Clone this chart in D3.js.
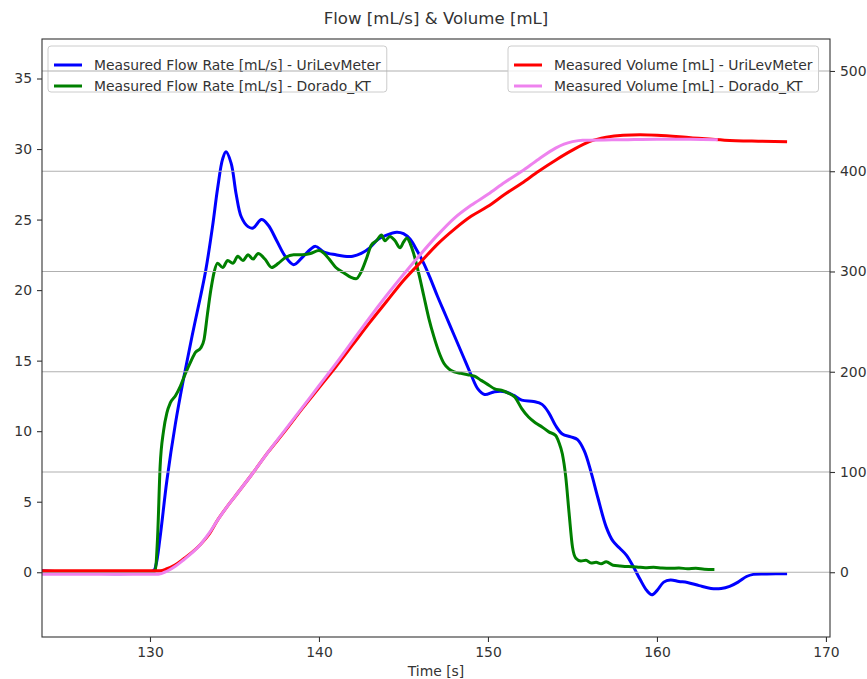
<!DOCTYPE html>
<html>
<head>
<meta charset="utf-8">
<script src="https://cdn.jsdelivr.net/npm/d3@7"></script>
<style>
  html, body { margin: 0; padding: 0; background: #fff; }
  svg text { font-family: "DejaVu Sans", sans-serif; fill: #333; }
</style>
</head>
<body>
<div id="chart"></div>
<script>
// flow rate, UriLevMeter [mL/s]
var uriFlowT = [123.6,130.2,130.35,130.6,131.0,131.5,132.0,132.5,133.0,133.3,133.7,134.0,134.3,134.5,134.8,135.1,135.4,135.8,136.1,136.6,137.0,137.5,138.0,138.5,139.0,139.5,139.8,140.3,141.0,141.5,142.0,142.5,143.0,143.5,144.0,144.6,145.0,145.4,145.8,146.2,146.6,147.0,147.5,148.0,148.5,149.0,149.4,149.8,150.4,151.0,151.5,152.0,152.7,153.2,153.6,154.0,154.4,154.9,155.3,155.7,156.1,156.5,157.0,157.4,157.8,158.2,158.6,159.0,159.4,159.7,160.0,160.4,160.8,161.3,161.8,162.5,163.2,163.8,164.3,164.8,165.3,165.7,166.5,167.7];
var uriFlow = [0.1,0.1,0.5,2.5,6.5,10.5,13.8,16.8,19.6,21.4,24.5,27.2,29.3,29.8,29.0,26.8,25.2,24.5,24.4,25.0,24.6,23.5,22.4,21.8,22.3,22.9,23.1,22.7,22.5,22.4,22.4,22.6,23.0,23.6,23.9,24.1,24.0,23.6,22.8,21.9,20.8,19.6,18.2,16.8,15.4,14.0,13.0,12.6,12.8,12.8,12.55,12.2,12.1,11.9,11.3,10.4,9.8,9.6,9.4,8.6,7.1,5.3,3.2,2.2,1.7,1.2,0.4,-0.5,-1.3,-1.6,-1.3,-0.7,-0.55,-0.65,-0.72,-0.95,-1.15,-1.15,-1.0,-0.7,-0.3,-0.15,-0.12,-0.1];

// flow rate, Dorado_KT [mL/s]
var kidFlowT = [123.6,130.3,130.45,130.6,130.8,131.0,131.2,131.5,131.8,132.1,132.4,132.7,133.0,133.2,133.4,133.6,133.8,134.0,134.3,134.6,134.9,135.2,135.5,135.8,136.1,136.4,136.8,137.2,137.6,138.0,138.5,139.0,139.5,140.0,140.3,140.6,141.0,141.5,141.9,142.2,142.5,142.8,143.1,143.4,143.7,143.9,144.2,144.5,144.8,145.0,145.2,145.4,145.6,145.9,146.2,146.5,146.8,147.1,147.4,147.7,148.0,148.4,148.8,149.2,149.6,150.0,150.4,150.8,151.2,151.6,152.0,152.4,152.8,153.2,153.6,154.0,154.2,154.4,154.6,154.8,155.0,155.2,155.5,155.8,156.1,156.4,156.7,157.0,157.4,157.8,158.3,158.8,159.3,159.8,160.3,160.8,161.3,161.8,162.3,162.8,163.4];
var kidFlow = [0.05,0.05,2.5,7.5,10.0,11.3,12.0,12.5,13.2,14.1,14.9,15.6,15.9,16.5,18.3,20.0,21.3,21.9,21.6,22.1,21.9,22.4,22.1,22.5,22.2,22.6,22.2,21.6,21.9,22.3,22.5,22.5,22.6,22.8,22.6,22.2,21.6,21.2,20.9,20.8,21.3,22.2,23.2,23.5,23.9,23.5,23.8,23.5,23.0,23.4,23.7,23.3,22.6,21.2,19.6,18.0,16.7,15.6,14.8,14.4,14.2,14.1,14.0,13.9,13.6,13.3,13.0,12.9,12.7,12.4,11.6,11.0,10.6,10.3,9.95,9.7,9.2,8.4,6.8,4.2,1.8,1.0,0.8,0.85,0.65,0.7,0.6,0.75,0.5,0.45,0.4,0.38,0.32,0.35,0.3,0.28,0.3,0.25,0.28,0.22,0.2];

// volume, UriLevMeter [mL]
var uriVolT = [123.6,130.6,131.0,131.5,132.0,132.5,133.0,133.5,134.0,134.5,135.0,136.0,137.0,138.0,139.0,140.0,141.0,142.0,143.0,144.0,145.0,146.0,147.0,148.0,149.0,150.0,151.0,152.0,153.0,154.0,155.0,156.0,157.0,158.0,159.0,160.0,162.0,164.0,166.0,167.7];
var uriVol = [1.5,1.5,3.5,7.5,13.5,20,28,38,52,64,75,97,120,141,163,184,205,227,249,270,291,309,327,342,355,365,377,388,400,411,421,429.5,434,436,436.5,436,433.5,431,430,429.5];

// volume, Dorado_KT [mL]
var kidVolT = [123.6,130.5,131.0,131.5,132.0,132.5,133.0,133.5,134.0,134.5,135.0,136.0,137.0,138.0,139.0,140.0,141.0,142.0,143.0,144.0,145.0,146.0,147.0,148.0,149.0,150.0,151.0,152.0,153.0,154.0,154.5,155.0,155.6,156.0,158.0,160.0,162.0,163.6];
var kidVol = [-2,-2,1,6,12.5,19.5,28,39,52,64,75,97,120,142,164,186,208,231,254,276,297,317,336,353,366,377,389,400,412,423,427,429.5,431,431,431.5,432,432,431.5];

var xTicks = [130, 140, 150, 160, 170];
var flowTicks = [0, 5, 10, 15, 20, 25, 30, 35];
var volTicks = [0, 100, 200, 300, 400, 500];

var W = 867, H = 679;
var margin = {top: 39, right: 37, bottom: 42, left: 42};
var iw = W - margin.left - margin.right,
    ih = H - margin.top - margin.bottom;

var svg = d3.select("#chart").append("svg")
    .attr("width", W).attr("height", H);

var g = svg.append("g")
    .attr("transform", "translate(" + margin.left + "," + margin.top + ")");

var x = d3.scaleLinear().domain([123.61, 170.24]).range([0, iw]);
var yFlow = d3.scaleLinear().domain([-4.59, 37.8]).range([ih, 0]);
var yVol = d3.scaleLinear().domain([-64.6, 531.9]).range([ih, 0]);

svg.append("defs").append("clipPath").attr("id", "clip")
    .append("rect").attr("width", iw).attr("height", ih);

function pairs(ts, vs) { return ts.map(function(t, i) { return [t, vs[i]]; }); }

var flowLine = function(curve) {
    return d3.line().x(function(d) { return x(d[0]); })
        .y(function(d) { return yFlow(d[1]); }).curve(curve);
};
var volLine = d3.line().x(function(d) { return x(d[0]); })
    .y(function(d) { return yVol(d[1]); }).curve(d3.curveMonotoneX);

var plot = g.append("g").attr("clip-path", "url(#clip)");

// first axes: flow lines
plot.append("path").datum(pairs(uriFlowT, uriFlow))
    .attr("d", flowLine(d3.curveCatmullRom.alpha(0.5)))
    .attr("fill", "none").attr("stroke", "#0000ff").attr("stroke-width", 3)
    .attr("stroke-linejoin", "round");
plot.append("path").datum(pairs(kidFlowT, kidFlow))
    .attr("d", flowLine(d3.curveMonotoneX))
    .attr("fill", "none").attr("stroke", "#008000").attr("stroke-width", 3)
    .attr("stroke-linejoin", "round");

// legend drawing helper
function legend(left, top, items) {
    var lg = g.append("g");
    var rowY = [19, 40];
    var textW = 0;
    var texts = items.map(function(it, i) {
        return lg.append("text").attr("x", left + 46).attr("y", top + rowY[i])
            .attr("dy", "0.35em").style("font-size", "13.9px").text(it.label);
    });
    texts.forEach(function(t) { textW = Math.max(textW, t.node().getComputedTextLength()); });
    lg.insert("rect", "text")
        .attr("x", left).attr("y", top)
        .attr("width", textW + 46 + 6).attr("height", 46)
        .attr("rx", 3)
        .attr("fill", "#fff").attr("fill-opacity", 0.8)
        .attr("stroke", "#cccccc").attr("stroke-width", 1);
    items.forEach(function(it, i) {
        lg.insert("line", "text")
            .attr("x1", left + 6).attr("x2", left + 34)
            .attr("y1", top + rowY[i]).attr("y2", top + rowY[i])
            .attr("stroke", it.color).attr("stroke-width", 3);
    });
    return lg;
}

legend(6, 7, [
    {label: "Measured Flow Rate [mL/s] - UriLevMeter", color: "#0000ff"},
    {label: "Measured Flow Rate [mL/s] - Dorado_KT", color: "#008000"}
]);

// second axes: grid from volume ticks, then volume lines
g.append("g").selectAll("line").data(volTicks).enter().append("line")
    .attr("x1", 0).attr("x2", iw)
    .attr("y1", function(d) { return yVol(d); })
    .attr("y2", function(d) { return yVol(d); })
    .attr("stroke", "#b0b0b0").attr("stroke-width", 1.1);

var plot2 = g.append("g").attr("clip-path", "url(#clip)");
plot2.append("path").datum(pairs(uriVolT, uriVol))
    .attr("d", volLine)
    .attr("fill", "none").attr("stroke", "#ff0000").attr("stroke-width", 3);
plot2.append("path").datum(pairs(kidVolT, kidVol))
    .attr("d", volLine)
    .attr("fill", "none").attr("stroke", "#ee82ee").attr("stroke-width", 3);

legend(466, 7, [
    {label: "Measured Volume [mL] - UriLevMeter", color: "#ff0000"},
    {label: "Measured Volume [mL] - Dorado_KT", color: "#ee82ee"}
]);

// axes
function styleAxis(sel) {
    sel.select(".domain").remove();
    sel.selectAll(".tick line").attr("stroke", "#333").attr("stroke-width", 1.1);
    sel.selectAll(".tick text").style("font-size", "13.9px").attr("fill", "#333");
}

g.append("g").attr("transform", "translate(0," + ih + ")")
    .call(d3.axisBottom(x).tickValues(xTicks).tickSize(5).tickPadding(5).tickFormat(d3.format("d")))
    .call(styleAxis);
g.append("g")
    .call(d3.axisLeft(yFlow).tickValues(flowTicks).tickSize(5).tickPadding(5).tickFormat(d3.format("d")))
    .call(styleAxis);
g.append("g").attr("transform", "translate(" + iw + ",0)")
    .call(d3.axisRight(yVol).tickValues(volTicks).tickSize(5).tickPadding(5).tickFormat(d3.format("d")))
    .call(styleAxis);

g.append("rect").attr("width", iw).attr("height", ih)
    .attr("fill", "none").attr("stroke", "#333").attr("stroke-width", 1.1);

svg.append("text").attr("x", margin.left + iw / 2).attr("y", 24)
    .attr("text-anchor", "middle").style("font-size", "16.6px")
    .text("Flow [mL/s] & Volume [mL]");

svg.append("text").attr("x", margin.left + iw / 2).attr("y", 676)
    .attr("text-anchor", "middle").style("font-size", "13.9px")
    .text("Time [s]");
</script>
</body>
</html>
